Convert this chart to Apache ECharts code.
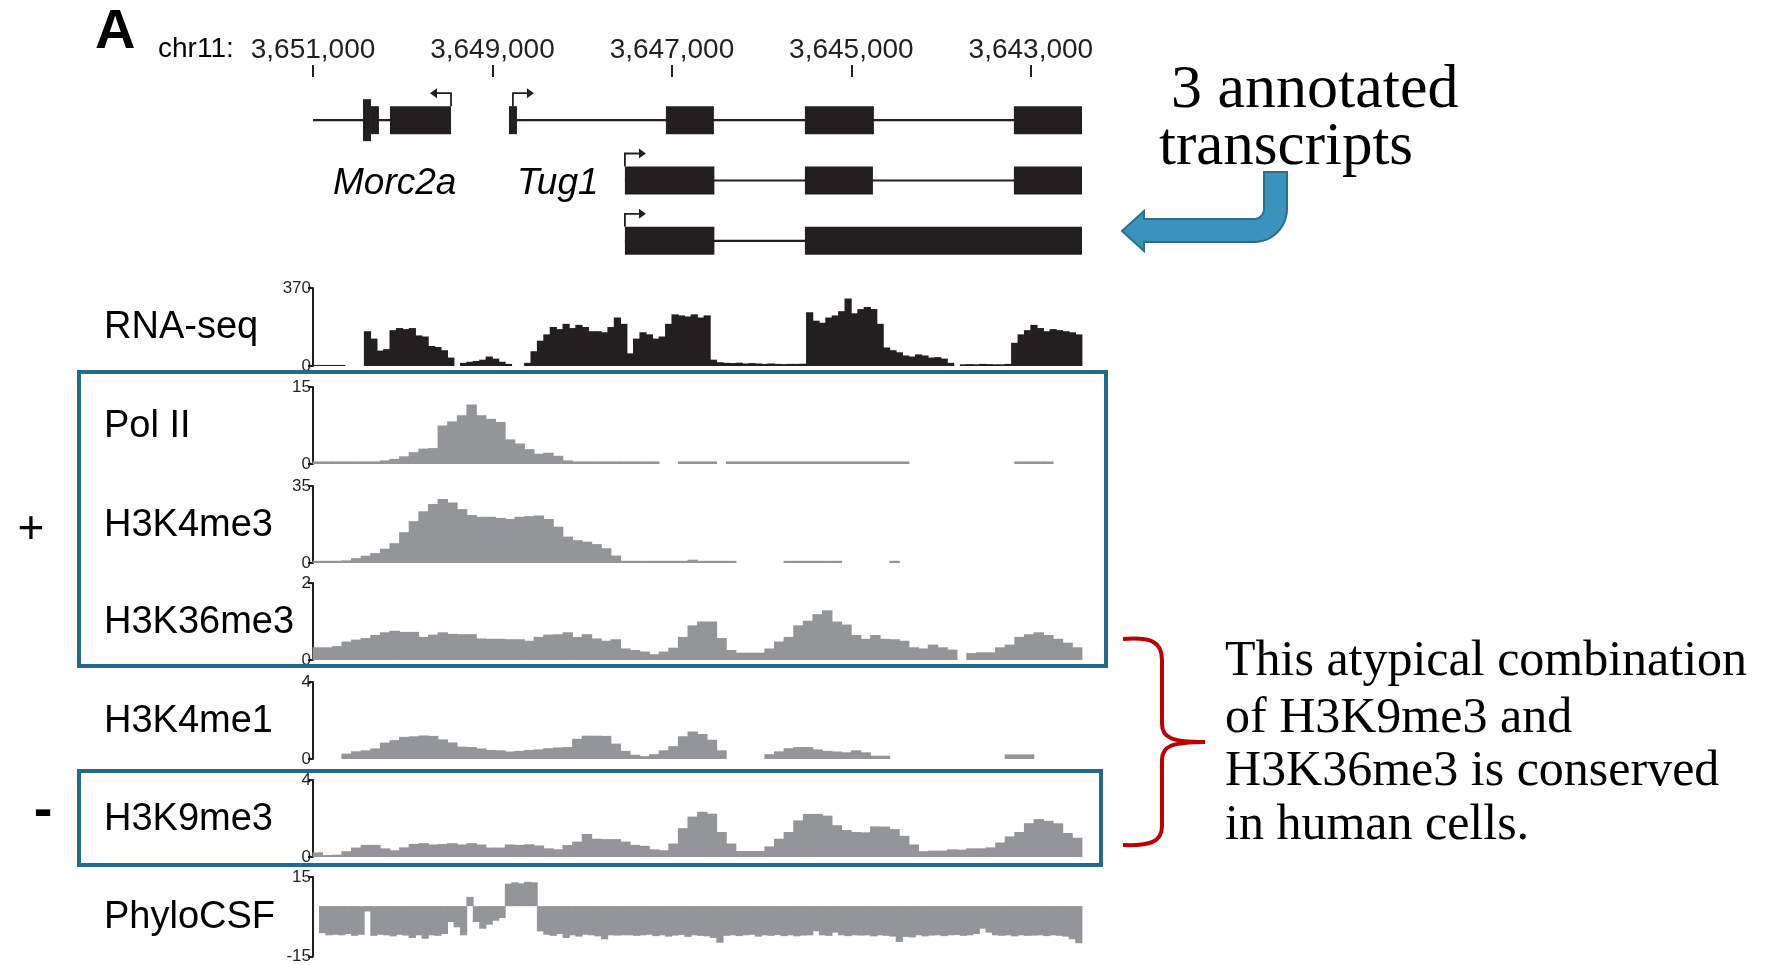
<!DOCTYPE html>
<html>
<head>
<meta charset="utf-8">
<title>Tug1 locus</title>
<script src="https://cdn.jsdelivr.net/npm/echarts@6/dist/echarts.min.js"></script>
<style>
  html, body { margin: 0; padding: 0; background: #fff; }
  #chart { width: 1773px; height: 965px; }
</style>
</head>
<body>
<div id="chart"></div>
<script>
// genomic window, drawn right-to-left (minus strand view)
const chromName = 'chr11:';
const windowLeft = 3651000;
const windowRight = 3642430;
const coordTicks = [3651000, 3649000, 3647000, 3645000, 3643000];

// gene models: [start, end, row, tall]
const transcriptRows = ['row1', 'row2', 'row3'];
const exons = [
  [3650443, 3650354, 0, 1], [3650354, 3650265, 0, 0], [3650142, 3649462, 0, 0],
  [3648816, 3648727, 0, 0],
  [3647067, 3646532, 0, 0], [3645518, 3644749, 0, 0], [3643189, 3642430, 0, 0],
  [3647524, 3646527, 1, 0], [3645518, 3644760, 1, 0], [3643189, 3642430, 1, 0],
  [3647524, 3646527, 2, 0], [3645518, 3642430, 2, 0]
];
const introns = [
  [3651000, 3649462, 0], [3648727, 3642430, 0],
  [3647524, 3642430, 1], [3647524, 3642430, 2]
];
// [position, row, direction]
const tssMarks = [[3649462, 0, -1], [3648772, 0, 1], [3647524, 1, 1], [3647524, 2, 1]];

// signal tracks
const trackNames = ['RNA-seq', 'Pol II', 'H3K4me3', 'H3K36me3', 'H3K4me1', 'H3K9me3', 'PhyloCSF'];
const trackMin = [0, 0, 0, 0, 0, 0, -15];
const trackMax = [370, 15, 35, 2, 4, 4, 15];
// value each track's bars grow from
const trackBase = [0, 0, 0, 0, 0, 0, 4];

const rnaSeq = [
  5, 5, 5, 5, 5, null, null, null, 165, 130,
  73, 80, 170, 180, 175, 180, 145, 140, 95, 90,
  75, 40, null, 15, 20, 24, 30, 45, 35, 20,
  10, null, null, 15, 70, 120, 150, 185, 175, 200,
  180, 195, 185, 165, 165, 160, 185, 230, 200, 60,
  130, 160, 150, 130, 140, 200, 245, 240, 235, 245,
  230, 240, 30, 18, 15, 14, 16, 12, 14, 12,
  10, 12, 10, 9, 10, 10, 11, 255, 215, 205,
  230, 240, 260, 320, 250, 270, 280, 270, 200, 88,
  75, 65, 50, 45, 55, 50, 40, 42, 35, 15,
  null, 8, 9, 8, 10, 9, 8, 8, 10, 110,
  150, 170, 195, 180, 165, 175, 170, 165, 160, 150
];
const polII = [
  0.5, 0.5, 0.5, 0.5, 0.5, 0.5, 0.5, 0.7, 1.0, 1.5,
  2.3, 3.0, 3.1, 7.5, 8.3, 9.5, 11.6, 9.5, 8.8, 8.2,
  4.8, 4.0, 2.9, 2.0, 2.2, 1.6, 0.7, 0.5, 0.5, 0.5,
  0.5, 0.5, 0.5, 0.5, 0.5, 0.5, null, null, 0.5, 0.5,
  0.5, 0.5, null, 0.5, 0.5, 0.5, 0.5, 0.5, 0.5, 0.5,
  0.5, 0.5, 0.5, 0.5, 0.5, 0.5, 0.5, 0.5, 0.5, 0.5,
  0.5, 0.5, null, null, null, null, null, null, null, null,
  null, null, null, 0.5, 0.5, 0.5, 0.5, null, null, null
];
const h3k4me3 = [
  1, 1, 1, 1.2, 2.2, 3.3, 4.5, 6.5, 9, 14,
  19, 23.5, 26.8, 29.1, 27.5, 24.5, 21.8, 21, 21, 20.5,
  20, 21, 21.3, 21.6, 20, 16.5, 12, 10.4, 9.7, 8.6,
  6.7, 3.4, 1, 1, 1, 1, 1, 1, 1, 1.5,
  1, 1, 1, 1, null, null, null, null, null, 1,
  1, 1, 1, 1, 1, null, null, null, null, null,
  1, null, null, null, null, null, null, null, null, null,
  null, null, null, null, null, null, null, null, null, null
];
const h3k36me3 = [
  0.33, 0.33, 0.36, 0.48, 0.53, 0.57, 0.65, 0.72, 0.76, 0.73,
  0.73, 0.6, 0.66, 0.72, 0.68, 0.67, 0.67, 0.56, 0.55, 0.55,
  0.54, 0.54, 0.5, 0.6, 0.66, 0.67, 0.72, 0.6, 0.67, 0.56,
  0.5, 0.54, 0.3, 0.26, 0.22, 0.15, 0.22, 0.32, 0.6, 0.9,
  1.0, 1.0, 0.57, 0.26, 0.19, 0.19, 0.19, 0.3, 0.48, 0.6,
  0.9, 1.02, 1.19, 1.29, 1.0, 0.92, 0.65, 0.55, 0.65, 0.55,
  0.54, 0.5, 0.33, 0.3, 0.4, 0.33, 0.27, null, 0.18, 0.2,
  0.2, 0.33, 0.4, 0.6, 0.67, 0.72, 0.65, 0.55, 0.45, 0.33
];
const h3k4me1 = [
  null, null, null, 0.28, 0.4, 0.45, 0.55, 0.85, 0.98, 1.15,
  1.18, 1.22, 1.2, 1.02, 0.86, 0.64, 0.62, 0.55, 0.47, 0.45,
  0.39, 0.42, 0.47, 0.5, 0.56, 0.6, 0.62, 1.05, 1.21, 1.21,
  1.2, 0.8, 0.42, 0.22, 0.15, 0.25, 0.45, 0.67, 1.18, 1.43,
  1.3, 1.0, 0.45, null, null, null, null, 0.25, 0.4, 0.56,
  0.62, 0.62, 0.5, 0.42, 0.39, 0.35, 0.45, 0.35, 0.17, 0.17,
  null, null, null, null, null, null, null, null, null, null,
  null, null, 0.24, 0.24, 0.24, null, null, null, null, null
];
const h3k9me3 = [
  0.24, 0.1, 0.12, 0.3, 0.49, 0.63, 0.63, 0.45, 0.35, 0.5,
  0.68, 0.72, 0.65, 0.68, 0.72, 0.65, 0.72, 0.65, 0.49, 0.49,
  0.65, 0.63, 0.66, 0.6, 0.45, 0.4, 0.62, 0.8, 1.2, 0.95,
  0.93, 0.93, 0.8, 0.63, 0.58, 0.4, 0.35, 0.7, 1.5, 2.1,
  2.35, 2.25, 1.3, 0.7, 0.31, 0.31, 0.31, 0.55, 0.95, 1.3,
  1.9, 2.24, 2.24, 2.15, 1.65, 1.4, 1.3, 1.28, 1.59, 1.58,
  1.45, 1.1, 0.65, 0.3, 0.33, 0.33, 0.4, 0.38, 0.45, 0.45,
  0.5, 0.75, 1.07, 1.3, 1.76, 1.97, 1.88, 1.75, 1.25, 1.0
];
const phyloCSF = [
  null, -6.2, -7, -6.8, -7, -6.5, -7.2, -6.8, 2, -7.2,
  -6.8, -7, -7.4, -6.8, -7.1, -8, -7, -8.3, -7, -7.2,
  -6.5, -2, -4, -7, 7.5, -2, -4.5, -3, -1.5, -0.5,
  12.5, 13, 12.6, 13.2, 13, -5.5, -6.8, -7.2, -6.5, -8,
  -7, -7.5, -6.8, -7, -7.4, -8.5, -7, -7.1, -7, -7,
  -7.2, -7, -6.8, -7.3, -7, -7.5, -7.1, -6.9, -7.6, -7,
  -7.2, -7.4, -8, -9.8, -7.2, -7, -7.3, -7, -6.8, -7.5,
  -7, -7.2, -6.9, -7.3, -7, -7.4, -7.1, -7, -5.5, -7,
  -7.2, -6, -7, -7.3, -7, -7.1, -7, -7.4, -7, -7.2,
  -7.5, -9.5, -7.6, -7.8, -7, -7.4, -7.1, -7, -7.3, -7,
  -6.9, -7.2, -7, -6.5, -4.5, -6, -7, -7.2, -7, -7.4,
  -7, -7.2, -7.1, -7, -7.3, -7, -7.2, -7.5, -8.5, -10
];
const trackValues = [rnaSeq, polII, h3k4me3, h3k36me3, h3k4me1, h3k9me3, phyloCSF];

const ink = '#231f20';
const grey = '#939598';
const sans = '"Liberation Sans", Arial, sans-serif';
const serif = '"Liberation Serif", "Times New Roman", serif';

// layout
const plotLeft = 313;
const plotWidth = 769;
const trackTop = [288, 387, 486, 583, 682, 780, 877];
const trackHeight = [78, 77, 77, 77, 77, 77, 80];

const chart = echarts.init(document.getElementById('chart'));

const grid = [{ left: plotLeft, width: plotWidth, top: 90, height: 181 }];
const xAxis = [{
  type: 'value', gridIndex: 0, min: windowRight, max: windowLeft, inverse: true,
  position: 'top', offset: 13,
  axisLine: { show: false },
  splitLine: { show: false },
  axisTick: { show: true, customValues: coordTicks, length: 12, lineStyle: { color: ink, width: 2 } },
  axisLabel: {
    customValues: coordTicks, margin: 13, fontSize: 28, fontFamily: sans, color: ink,
    formatter: v => v.toLocaleString('en-US')
  }
}];
const yAxis = [{ type: 'category', gridIndex: 0, data: transcriptRows, inverse: true, show: false }];

const series = [
  {
    type: 'custom', xAxisIndex: 0, yAxisIndex: 0, data: introns, silent: true,
    renderItem: (params, api) => {
      const a = api.coord([api.value(0), api.value(2)]);
      const b = api.coord([api.value(1), api.value(2)]);
      return { type: 'line', shape: { x1: a[0], y1: a[1], x2: b[0], y2: b[1] },
        style: { stroke: ink, lineWidth: 2.2 } };
    }
  },
  {
    type: 'custom', xAxisIndex: 0, yAxisIndex: 0, data: exons, silent: true,
    renderItem: (params, api) => {
      const a = api.coord([api.value(0), api.value(2)]);
      const b = api.coord([api.value(1), api.value(2)]);
      const h = api.value(3) ? 42 : 28;
      return { type: 'rect',
        shape: { x: Math.min(a[0], b[0]), y: a[1] - h / 2, width: Math.abs(b[0] - a[0]), height: h },
        style: { fill: ink } };
    }
  },
  {
    type: 'custom', xAxisIndex: 0, yAxisIndex: 0, data: tssMarks, silent: true,
    renderItem: (params, api) => {
      const p = api.coord([api.value(0), api.value(1)]);
      const dir = api.value(2);
      const x = p[0], y0 = p[1] - 14, y1 = y0 - 13, x1 = x + dir * 14;
      return { type: 'group', children: [
        { type: 'polyline', shape: { points: [[x, y0], [x, y1], [x1, y1]] },
          style: { stroke: ink, lineWidth: 1.8, fill: null } },
        { type: 'polygon', shape: { points: [[x1, y1 - 5], [x1 + dir * 7, y1], [x1, y1 + 5]] },
          style: { fill: ink } }
      ] };
    }
  }
];

// one filled step per bin, from the track's base value up (or down) to the bin value
function binRenderer(base, color) {
  return (params, api) => {
    const v = api.value(1);
    if (v == null || isNaN(v)) return;
    const a = api.coord([api.value(0), base]);
    const b = api.coord([api.value(0), v]);
    const w = api.size([1, 0])[0];
    return { type: 'rect',
      shape: { x: a[0] - w / 2 - 0.4, y: Math.min(a[1], b[1]), width: w + 0.8, height: Math.max(Math.abs(b[1] - a[1]), 1) },
      style: { fill: color } };
  };
}

trackValues.forEach((vals, k) => {
  const gi = k + 1;
  grid.push({ left: plotLeft, width: plotWidth, top: trackTop[k], height: trackHeight[k] });
  xAxis.push({ type: 'category', gridIndex: gi, data: vals.map((v, i) => i), show: false });
  yAxis.push({
    type: 'value', gridIndex: gi, min: trackMin[k], max: trackMax[k],
    interval: trackMax[k] - trackMin[k],
    axisLine: { show: true, lineStyle: { color: ink, width: 2 } },
    axisTick: { show: true, length: 5, lineStyle: { color: ink, width: 2 } },
    axisLabel: { fontSize: 17, fontFamily: sans, color: ink, margin: 2 },
    splitLine: { show: false }
  });
  series.push({
    type: 'custom', xAxisIndex: gi, yAxisIndex: gi, silent: true,
    data: vals.map((v, i) => [i, v]),
    renderItem: binRenderer(trackBase[k], k === 0 ? ink : grey)
  });
});

function txt(text, x, y, font, align, extra) {
  return Object.assign({
    type: 'text', x: x, y: y, z: 10,
    style: { text: text, font: font, fill: '#000', align: align || 'left', verticalAlign: 'middle',
      textAlign: align || 'left', textVerticalAlign: 'middle' }
  }, extra || {});
}

function arcPoints(cx, cy, r, a0, a1, n) {
  const pts = [];
  for (let i = 0; i <= n; i++) {
    const a = (a0 + (a1 - a0) * i / n) * Math.PI / 180;
    pts.push([cx + r * Math.cos(a), cy + r * Math.sin(a)]);
  }
  return pts;
}

const arrowPts = [[1264, 172], [1287, 172]]
  .concat(arcPoints(1254, 209, 33, 0, 90, 12))
  .concat([[1144, 242], [1144, 251], [1122, 231], [1144, 211], [1144, 219]])
  .concat(arcPoints(1254, 209, 10, 90, 0, 8));

const braceStyle = { stroke: '#c00000', lineWidth: 4, fill: null };

const graphic = [
  txt('A', 95, 33, 'bold 56px ' + sans),
  txt(chromName, 158, 49, '28px ' + sans),
  txt('Morc2a', 333, 184, 'italic 37px ' + sans),
  txt('Tug1', 517, 184, 'italic 37px ' + sans),
  txt('+', 31, 530, '46px ' + sans, 'center'),
  txt('-', 43, 812, 'bold 56px ' + sans, 'center'),
  { type: 'rect', z: 10, shape: { x: 79, y: 372, width: 1027, height: 294 },
    style: { fill: null, stroke: '#236a8b', lineWidth: 4 } },
  { type: 'rect', z: 10, shape: { x: 79, y: 771, width: 1022, height: 94 },
    style: { fill: null, stroke: '#236a8b', lineWidth: 4 } },
  { type: 'polygon', z: 10, shape: { points: arrowPts },
    style: { fill: '#3a93bd', stroke: '#2b6e8f', lineWidth: 2 } },
  txt('3 annotated', 1171, 91, '62px ' + serif),
  txt('transcripts', 1159, 148, '61px ' + serif),
  { type: 'bezierCurve', z: 10, shape: { x1: 1123, y1: 639, cpx1: 1150, cpy1: 637, cpx2: 1162, cpy2: 641, x2: 1162, y2: 660 }, style: braceStyle },
  { type: 'line', z: 10, shape: { x1: 1162, y1: 660, x2: 1162, y2: 724 }, style: braceStyle },
  { type: 'bezierCurve', z: 10, shape: { x1: 1162, y1: 724, cpx1: 1162, cpy1: 738, cpx2: 1172, cpy2: 742, x2: 1205, y2: 742 }, style: braceStyle },
  { type: 'bezierCurve', z: 10, shape: { x1: 1205, y1: 742, cpx1: 1172, cpy1: 742, cpx2: 1162, cpy2: 746, x2: 1162, y2: 760 }, style: braceStyle },
  { type: 'line', z: 10, shape: { x1: 1162, y1: 760, x2: 1162, y2: 826 }, style: braceStyle },
  { type: 'bezierCurve', z: 10, shape: { x1: 1162, y1: 826, cpx1: 1162, cpy1: 842, cpx2: 1150, cpy2: 846, x2: 1123, y2: 845 }, style: braceStyle },
  txt('This atypical combination', 1225, 662, '50px ' + serif),
  txt('of H3K9me3 and', 1225, 719, '50px ' + serif),
  txt('H3K36me3 is conserved', 1225, 772, '50px ' + serif),
  txt('in human cells.', 1225, 826, '50px ' + serif)
];

trackNames.forEach((name, k) => {
  graphic.push(txt(name, 104, trackTop[k] + trackHeight[k] / 2 + 1, '38px ' + sans));
});

chart.setOption({
  backgroundColor: '#fff',
  animation: false,
  grid: grid,
  xAxis: xAxis,
  yAxis: yAxis,
  series: series,
  graphic: graphic
});
</script>
</body>
</html>
